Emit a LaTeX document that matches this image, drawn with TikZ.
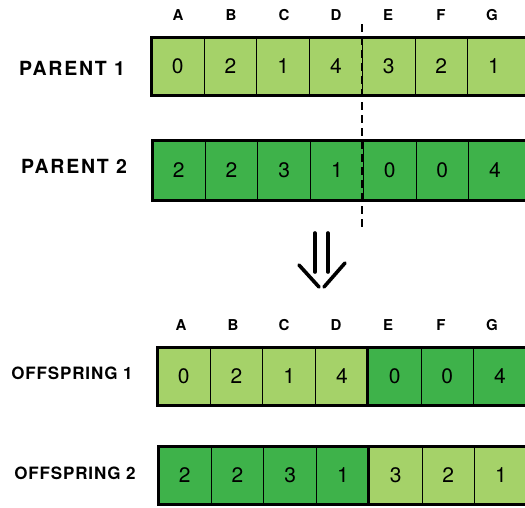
\documentclass[tikz,border=0pt]{standalone}
\usepackage{fontspec}
\setsansfont{TeX Gyre Heros}
\newfontfamily\labelfont[LetterSpace=5]{TeX Gyre Heros}
\newfontfamily\parentfont[LetterSpace=9]{TeX Gyre Heros}
\definecolor{lgreen}{RGB}{165,210,105}
\definecolor{dgreen}{RGB}{62,178,74}
\begin{document}
\begin{tikzpicture}[x=1pt,y=-1pt,
  cellbox/.style={draw=black, line width=0.9pt, minimum width=52.7pt, minimum height=58pt,
    inner sep=0pt, anchor=north west, font=\sffamily\fontsize{21}{21}\selectfont},
  lt/.style={cellbox, fill=lgreen},
  dk/.style={cellbox, fill=dgreen},
  lastcell/.style={draw=none, fill=none},
  divider/.style={draw=black, line width=0.9pt},
  border/.style={draw=black, line width=3pt},
  colhead/.style={font=\sffamily\bfseries\fontsize{15}{15}\selectfont},
  rowlabel/.style={font=\parentfont\bfseries\fontsize{19.5}{19.5}\selectfont},
  offlabel/.style={font=\labelfont\bfseries\fontsize{17}{17}\selectfont},
  arrowline/.style={draw=black, line width=3.6pt, line cap=round}]
\useasboundingbox (0,0) rectangle (525,507);
\clip (0,0) rectangle (525,507);

% column headings
\foreach \l/\x in {A/178,B/231,C/284,D/336,E/388,F/441,G/492}{
  \node[colhead] (ht\l) at (\x,15) {\l};
}
\foreach \l/\x in {A/181,B/233,C/284,D/336,E/388,F/441,G/492}{
  \node[colhead] (hb\l) at (\x,325) {\l};
}

% row labels
\node[rowlabel] (lp1) at (72,68) {PARENT 1};
\node[rowlabel] (lp2) at (74,166) {PARENT 2};
\node[offlabel] (lo1) at (72,373) {OFFSPRING 1};
\node[offlabel] (lo2) at (75,473) {OFFSPRING 2};

% background fills of the last (cut-off) cells
\fill[lgreen] ({151+52.7*6-2},37) rectangle (560,95);
\fill[dgreen] ({152+52.7*6-2},140) rectangle (560,200);
\fill[dgreen] ({157+52.7*6-2},347) rectangle (560,405);
\fill[lgreen] ({158+52.7*6-2},446) rectangle (560,504);

% parent 1
\foreach \i/\d/\s in {0/0/lt,1/2/lt,2/1/lt,3/4/lt,4/3/lt,5/2/lt}{
  \node[\s] (pa\i) at ({151+52.7*\i},37) {\d};
}
\node[lt, lastcell] (pa6) at ({151+52.7*6},37) {1};
\draw[border] (151,37) rectangle (560,95);

% parent 2
\foreach \i/\d/\s in {0/2/dk,1/2/dk,2/3/dk,3/1/dk,4/0/dk,5/0/dk}{
  \node[\s, minimum height=60pt] (pb\i) at ({152+52.7*\i},140) {\d};
}
\node[dk, lastcell, minimum height=60pt] (pb6) at ({152+52.7*6},140) {4};
\draw[border] (152,140) rectangle (560,200);

% offspring 1
\foreach \i/\d/\s in {0/0/lt,1/2/lt,2/1/lt,3/4/lt,4/0/dk,5/0/dk}{
  \node[\s] (oa\i) at ({157+52.7*\i},347) {\d};
}
\node[dk, lastcell] (oa6) at ({157+52.7*6},347) {4};
\draw[border] (157,347) rectangle (560,405);
\draw[border] (oa4.north west) -- (oa4.south west);

% offspring 2
\foreach \i/\d/\s in {0/2/dk,1/2/dk,2/3/dk,3/1/dk,4/3/lt,5/2/lt}{
  \node[\s] (ob\i) at ({158+52.7*\i},446) {\d};
}
\node[lt, lastcell] (ob6) at ({158+52.7*6},446) {1};
\draw[border] (158,446) rectangle (560,504);
\draw[border] (ob4.north west) -- (ob4.south west);

% crossover point
\coordinate (cuttop) at (362,24);
\coordinate (cutbot) at (362,228);
\draw[black, line width=1.8pt, dash pattern=on 8pt off 5pt] (cuttop) -- (cutbot);

% arrow
\coordinate (a1) at (315,233);
\coordinate (a2) at (315,272);
\coordinate (b1) at (328,233);
\coordinate (b2) at (328,272);
\coordinate (v1) at (299,265);
\coordinate (v2) at (319,287);
\coordinate (w1) at (345,263);
\coordinate (w2) at (324,287);
\draw[arrowline] (a1) -- (a2);
\draw[arrowline] (b1) -- (b2);
\draw[arrowline] (v1) -- (v2);
\draw[arrowline] (w1) -- (w2);
\end{tikzpicture}
\end{document}
